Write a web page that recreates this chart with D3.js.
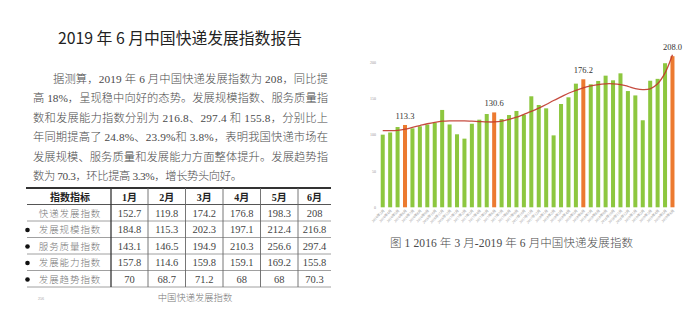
<!DOCTYPE html>
<html><head><meta charset="utf-8">
<script src="https://cdn.jsdelivr.net/npm/d3@7/dist/d3.min.js"></script>
<style>html,body{margin:0;padding:0;background:#fff;}svg{display:block;}</style>
</head><body>
<script>
// ---- data ----
const months = [];
const yearsMonths = [[2016,[3,4,5,6,7,8,9,10,11,12]],[2017,[1,2,3,4,5,6,7,8,9,10,11,12]],[2018,[1,2,3,4,5,6,7,8,9,10,11,12]],[2019,[1,2,3,4,5,6]]];
yearsMonths.forEach(([y, ms]) => ms.forEach(m => months.push(y + "年" + m + "月")));
const indexValues = [100,103,110.5,113.3,108.7,111.5,113.8,116.5,134,114,
  100.5,94.5,115,120.6,128.4,130.6,121.5,127,132.6,127.5,
  152.8,140.8,136.2,99,142.2,151.4,170.2,176.2,169.3,173.9,
  181.2,174.8,184.4,160,154,119.8,174.2,176.8,198.3,208.0];
const trendValues = [105.5,105.5,106,107.5,110,112.5,115,117,118.5,119,
  119,119,118.5,118,117.5,117.5,118.5,121,124,128,
  132,136.5,141.5,147,152,157,161,164.5,167,169,
  170,170,169,166.5,163.5,162,163,170,185,210];
const highlighted = ["2016年6月","2017年6月","2018年6月","2019年6月"];
const yTicks = [0,50,100,150,200];

const titleText = "2019 年 6 月中国快递发展指数报告";
const paragraphLines = [
  "据测算，2019 年 6 月中国快递发展指数为 208，同比提",
  "高 18%，呈现稳中向好的态势。发展规模指数、服务质量指",
  "数和发展能力指数分别为 216.8、297.4 和 155.8，分别比上",
  "年同期提高了 24.8%、23.9%和 3.8%，表明我国快递市场在",
  "发展规模、服务质量和发展能力方面整体提升。发展趋势指",
  "数为 70.3，环比提高 3.3%，增长势头向好。"
];
const tableHeader = ["指数指标","1月","2月","3月","4月","5月","6月"];
const tableLabels = ["快递发展指数","发展规模指数","服务质量指数","发展能力指数","发展趋势指数"];
const tableValues = [
  ["152.7","119.8","174.2","176.8","198.3","208"],
  ["184.8","115.3","202.3","197.1","212.4","216.8"],
  ["143.1","146.5","194.9","210.3","256.6","297.4"],
  ["157.8","114.6","159.8","159.1","169.2","155.8"],
  ["70","68.7","71.2","68","68","70.3"]
];
const captionText = "图 1 2016 年 3 月-2019 年 6 月中国快递发展指数";
const footerText = "中国快递发展指数";
const pageNumber = "256";

// ---- drawing ----
const W = 700, H = 316;
const svg = d3.select("body").append("svg").attr("width", W).attr("height", H);
svg.append("rect").attr("width", W).attr("height", H).attr("fill", "#fff");
const serifCJK = "'Liberation Serif','Noto Sans CJK SC',serif";

// title
svg.append("text").attr("x", 58).attr("y", 43.5)
  .attr("font-family", "'Noto Sans CJK SC',sans-serif").attr("font-size", 15.5)
  .attr("fill", "#222").attr("textLength", 244).attr("lengthAdjust", "spacingAndGlyphs")
  .text(titleText);

// paragraph
const pLayout = [[53,275],[33,295],[33,295],[33,295],[33,295],[33,209]];
svg.append("g").selectAll("text").data(paragraphLines).join("text")
  .attr("x", (d,i) => pLayout[i][0]).attr("y", (d,i) => 82.5 + i * 19.5)
  .attr("font-family", serifCJK).attr("font-size", 11.3).attr("font-weight", 300).attr("fill", "#4a4a4a")
  .attr("textLength", (d,i) => pLayout[i][1]).attr("lengthAdjust", "spacing")
  .text(d => d);

// table
const colEdges = [27, 111, 148, 185.5, 223, 260.5, 298, 331];
const rowEdges = [188, 204.5, 221, 237.5, 254, 270.5, 287];
const tg = svg.append("g");
tg.selectAll("line.h").data(rowEdges.slice(1)).join("line").attr("class","h")
  .attr("x1", 27).attr("x2", 331).attr("y1", d => d).attr("y2", d => d)
  .attr("stroke", (d,i) => i === 0 ? "#555" : "#888").attr("stroke-width", (d,i)=> i===0?1:0.8);
tg.append("line").attr("x1", 26).attr("x2", 331).attr("y1", rowEdges[0]).attr("y2", rowEdges[0])
  .attr("stroke", "#333").attr("stroke-width", 2);
tg.selectAll("line.v").data(colEdges.slice(1, -1)).join("line").attr("class","v")
  .attr("x1", d => d).attr("x2", d => d).attr("y1", rowEdges[0]).attr("y2", rowEdges[6])
  .attr("stroke", (d,i) => i === 0 ? "#333" : "#666").attr("stroke-width", (d,i)=> i===0?1.3:0.9);
tg.selectAll("text.hd").data(tableHeader).join("text").attr("class","hd")
  .attr("x", (d,i) => i === 0 ? 70 : (colEdges[i] + colEdges[i+1]) / 2)
  .attr("y", 201).attr("text-anchor", "middle")
  .attr("font-family", serifCJK).attr("font-weight", "bold").attr("font-size", 10)
  .attr("fill", "#222").text(d => d);
tableLabels.forEach((lab, r) => {
  const yb = (rowEdges[r+1] + rowEdges[r+2]) / 2 + 4;
  tg.append("text").attr("x", 70).attr("y", yb).attr("text-anchor", "middle")
    .attr("font-family", serifCJK).attr("font-size", 9.5).attr("font-weight", 300).attr("letter-spacing", 0.9)
    .attr("fill", "#777").text(lab);
  if (r > 0) tg.append("circle").attr("cx", 27.5).attr("cy", yb - 3.3).attr("r", 2.3).attr("fill", "#111");
  tg.selectAll(null).data(tableValues[r]).join("text")
    .attr("x", (d,i) => (colEdges[i+1] + colEdges[i+2]) / 2).attr("y", yb)
    .attr("text-anchor", "middle").attr("font-family", serifCJK).attr("font-size", 10.5)
    .attr("fill", "#444").text(d => d);
});
svg.append("text").attr("x", 38).attr("y", 300).attr("font-size", 4)
  .attr("font-family", serifCJK).attr("fill", "#999").text(pageNumber);
svg.append("text").attr("x", 195).attr("y", 300.5).attr("text-anchor", "middle")
  .attr("font-family", "'Noto Sans CJK SC',sans-serif").attr("font-size", 9.3).attr("font-weight", 300)
  .attr("fill", "#777").text(footerText);

// chart
const x = d3.scaleBand().domain(months).range([377.3, 677.9]).paddingInner(0.46).paddingOuter(0.46);
const y = d3.scaleLinear().domain([0, 200]).range([207.3, 62]);
const cg = svg.append("g");
cg.append("g").attr("transform", "translate(376,0)")
  .call(d3.axisLeft(y).tickValues(yTicks).tickSize(0).tickPadding(0))
  .call(g => g.select(".domain").remove())
  .call(g => g.selectAll("text").attr("font-size", 4).attr("fill", "#999").attr("font-family", serifCJK));
const xAxis = cg.append("g").attr("transform", "translate(0,208)")
  .call(d3.axisBottom(x).tickSize(0).tickPadding(0))
  .call(g => g.select(".domain").remove());
xAxis.selectAll("text").attr("font-size", 3.6).attr("fill", "#888").attr("font-family", serifCJK)
  .attr("text-anchor", "end").attr("dy", 0)
  .attr("transform", "translate(2,3) rotate(-45)");

cg.selectAll("rect.bar").data(months).join("rect").attr("class","bar")
  .attr("x", d => x(d)).attr("width", x.bandwidth())
  .attr("y", (d,i) => y(indexValues[i])).attr("height", (d,i) => y(0) - y(indexValues[i]))
  .attr("fill", d => highlighted.includes(d) ? "#EC7A30" : "#8DC73F");

const line = d3.line().x((d,i) => x(months[i]) + x.bandwidth()/2).y(d => y(d)).curve(d3.curveCatmullRom);
cg.append("path").attr("d", line(trendValues)).attr("fill", "none")
  .attr("stroke", "#C0392B").attr("stroke-width", 1.3).attr("opacity", 0.9);

cg.selectAll("text.vl").data(months.filter(m => highlighted.includes(m))).join("text").attr("class","vl")
  .attr("x", d => x(d) + x.bandwidth()/2).attr("y", d => y(indexValues[months.indexOf(d)]) - 6)
  .attr("text-anchor", "middle").attr("font-family", "'Liberation Serif',serif").attr("font-size", 8.5)
  .attr("fill", "#333").text(d => indexValues[months.indexOf(d)].toFixed(1));

svg.append("text").attr("x", 390).attr("y", 247).attr("font-family", serifCJK)
  .attr("font-size", 11.5).attr("font-weight", 300).attr("fill", "#4a4a4a").attr("textLength", 243).attr("lengthAdjust", "spacing")
  .text(captionText);
</script>
</body></html>
